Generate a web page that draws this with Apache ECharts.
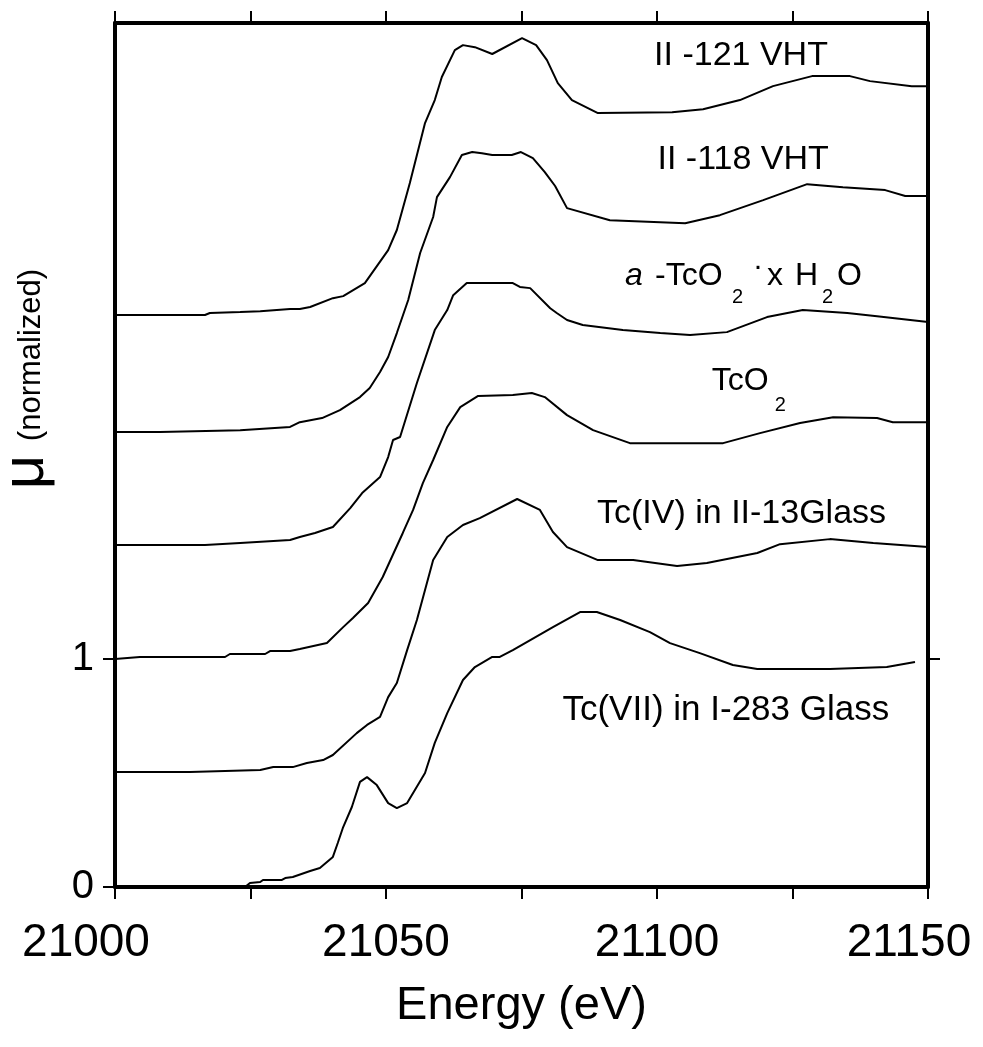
<!DOCTYPE html>
<html>
<head>
<meta charset="utf-8">
<script src="https://cdn.jsdelivr.net/npm/echarts@6/dist/echarts.min.js"></script>
<style>
  html, body { margin: 0; padding: 0; background: #ffffff; }
  #chart { width: 983px; height: 1047px; }
</style>
</head>
<body>
<div id="chart"></div>
<script>
// Tc K-edge XANES spectra, stacked with a 0.5 offset between samples.
// Energies in eV, mu in normalized units (offset included).

var energyII121 = [21000, 21016.6, 21017.5, 21023.1, 21026.8, 21032.3, 21034.1, 21036.0, 21040.2, 21042.1, 21046.1, 21050.4, 21052.0, 21054.4, 21057.2, 21059.0, 21060.3, 21062.7, 21064.2, 21066.4, 21069.6, 21075.1, 21077.7, 21079.7, 21081.7, 21084.3, 21089.1, 21102.8, 21108.5, 21115.3, 21121.4, 21128.6, 21135.6, 21139.3, 21147.0, 21150];
var muII121 = [2.509, 2.509, 2.518, 2.522, 2.526, 2.535, 2.535, 2.544, 2.583, 2.592, 2.649, 2.794, 2.882, 3.088, 3.351, 3.452, 3.553, 3.671, 3.693, 3.684, 3.654, 3.724, 3.693, 3.627, 3.526, 3.452, 3.395, 3.399, 3.412, 3.452, 3.513, 3.557, 3.557, 3.535, 3.513, 3.513];

var energyII118 = [21000, 21008.3, 21023.1, 21032.3, 21034.1, 21038.2, 21041.5, 21045.2, 21047.0, 21048.9, 21050.4, 21052.0, 21054.1, 21056.3, 21058.7, 21059.4, 21061.8, 21064.0, 21065.9, 21067.7, 21069.6, 21073.2, 21074.9, 21077.1, 21079.3, 21081.2, 21083.4, 21091.3, 21105.2, 21111.6, 21119.6, 21127.7, 21134.3, 21142.1, 21145.8, 21150];
var muII118 = [1.996, 1.996, 2.004, 2.018, 2.039, 2.057, 2.092, 2.149, 2.189, 2.259, 2.325, 2.430, 2.575, 2.781, 2.939, 3.026, 3.114, 3.211, 3.224, 3.219, 3.211, 3.211, 3.224, 3.197, 3.136, 3.075, 2.978, 2.925, 2.912, 2.947, 3.013, 3.083, 3.070, 3.057, 3.031, 3.031];

var energyHydrous = [21000, 21016.6, 21023.1, 21032.3, 21034.1, 21036.9, 21040.2, 21043.4, 21045.6, 21048.9, 21050.4, 21051.3, 21052.6, 21055.7, 21059.0, 21061.3, 21062.4, 21064.9, 21073.4, 21074.7, 21076.6, 21080.3, 21081.5, 21083.4, 21086.3, 21093.7, 21100.6, 21106.1, 21112.9, 21120.3, 21126.9, 21135.1, 21140.6, 21150];
var muHydrous = [1.500, 1.500, 1.509, 1.522, 1.535, 1.553, 1.579, 1.662, 1.728, 1.798, 1.886, 1.961, 1.974, 2.211, 2.443, 2.531, 2.596, 2.649, 2.649, 2.632, 2.627, 2.539, 2.518, 2.487, 2.465, 2.443, 2.430, 2.421, 2.434, 2.500, 2.531, 2.518, 2.504, 2.478];

var energyTcO2 = [21000, 21004.6, 21020.3, 21021.2, 21027.7, 21028.6, 21032.3, 21034.1, 21039.1, 21042.1, 21043.9, 21046.7, 21049.4, 21053.1, 21055.0, 21056.8, 21058.7, 21061.3, 21063.7, 21067.0, 21073.4, 21076.9, 21079.3, 21083.4, 21088.2, 21095.0, 21112.2, 21119.0, 21126.4, 21132.5, 21140.6, 21143.5, 21150];
var muTcO2 = [1.000, 1.009, 1.009, 1.022, 1.022, 1.035, 1.035, 1.044, 1.070, 1.140, 1.180, 1.246, 1.360, 1.553, 1.654, 1.772, 1.873, 2.018, 2.105, 2.154, 2.158, 2.167, 2.149, 2.070, 2.004, 1.947, 1.947, 1.991, 2.035, 2.061, 2.057, 2.039, 2.039];

var energyTcIV = [21000, 21013.8, 21026.8, 21029.2, 21032.8, 21035.4, 21038.4, 21040.2, 21044.6, 21046.5, 21048.9, 21050.4, 21052.0, 21053.9, 21055.7, 21057.2, 21058.7, 21061.3, 21064.2, 21067.3, 21074.2, 21078.4, 21080.8, 21083.4, 21089.1, 21095.6, 21103.7, 21109.2, 21118.5, 21122.7, 21131.9, 21139.9, 21150];
var muTcIV = [0.504, 0.504, 0.513, 0.526, 0.526, 0.544, 0.557, 0.579, 0.675, 0.711, 0.746, 0.833, 0.895, 1.039, 1.171, 1.303, 1.434, 1.535, 1.588, 1.618, 1.702, 1.654, 1.557, 1.491, 1.434, 1.434, 1.408, 1.421, 1.465, 1.504, 1.526, 1.509, 1.491];

var energyTcVII = [21000, 21024.0, 21024.9, 21026.8, 21027.3, 21030.8, 21031.4, 21032.8, 21036.0, 21037.8, 21040.2, 21041.1, 21042.1, 21043.7, 21045.2, 21046.5, 21048.3, 21050.4, 21052.0, 21053.9, 21057.2, 21059.0, 21061.3, 21064.2, 21066.4, 21069.6, 21071.0, 21073.4, 21080.8, 21085.8, 21088.9, 21093.2, 21098.7, 21102.4, 21107.9, 21114.0, 21118.5, 21131.9, 21142.4, 21147.6];
var muTcVII = [0, 0, 0.018, 0.022, 0.031, 0.031, 0.039, 0.044, 0.070, 0.083, 0.132, 0.193, 0.263, 0.351, 0.461, 0.482, 0.447, 0.368, 0.346, 0.368, 0.500, 0.632, 0.763, 0.908, 0.965, 1.009, 1.009, 1.039, 1.140, 1.206, 1.206, 1.171, 1.118, 1.070, 1.026, 0.974, 0.956, 0.956, 0.965, 0.987];

var energyTicks = [21000, 21050, 21100, 21150];
var muTicks = [0, 1];

// Curve captions: [energy, mu] anchor of each caption
var captionII121 = [21115.5, 3.649];
var captionII118 = [21115.9, 3.189];
var captionHydrous = [21094.1, 2.680];
var captionTcO2 = [21110.1, 2.219];
var captionTcIV = [21115.6, 1.640];
var captionTcVII = [21112.7, 0.776];

var FONT = '"Liberation Sans", Arial, Helvetica, sans-serif';

function zip(xs, ys) {
  var out = [];
  for (var i = 0; i < xs.length; i++) out.push([xs[i], ys[i]]);
  return out;
}

var curves = [
  { name: 'II -121 VHT', x: energyII121, y: muII121 },
  { name: 'II -118 VHT', x: energyII118, y: muII118 },
  { name: 'a-TcO2 x H2O', x: energyHydrous, y: muHydrous },
  { name: 'TcO2', x: energyTcO2, y: muTcO2 },
  { name: 'Tc(IV) in II-13Glass', x: energyTcIV, y: muTcIV },
  { name: 'Tc(VII) in I-283 Glass', x: energyTcVII, y: muTcVII }
];

var chart = echarts.init(document.getElementById('chart'), null, { renderer: 'canvas' });

var frameLine = { show: true, onZero: false, lineStyle: { color: '#000', width: 4 } };
var tickStyle = { show: true, inside: false, length: 12, lineStyle: { color: '#000', width: 2 } };
var tickFont = { fontSize: 46, fontFamily: FONT, color: '#000' };

chart.setOption({
  animation: false,
  backgroundColor: '#ffffff',
  grid: { left: 115, right: 55, top: 23, bottom: 160, outerBoundsMode: 'none', containLabel: false },
  xAxis: [
    {
      type: 'value', position: 'bottom', min: 21000, max: 21150, interval: 25,
      axisLine: frameLine,
      axisTick: tickStyle,
      splitLine: { show: false },
      axisLabel: {
        margin: 33, color: '#000', fontSize: 46, fontFamily: FONT,
        formatter: function (v) {
          if (energyTicks.indexOf(v) < 0) return '';
          if (v === energyTicks[0]) return '{first|' + v + '}';
          if (v === energyTicks[energyTicks.length - 1]) return '{last|' + v + '}';
          return String(v);
        },
        rich: {
          first: Object.assign({ padding: [0, 58, 0, 0] }, tickFont),
          last: Object.assign({ padding: [0, 38, 0, 0] }, tickFont)
        }
      },
      name: 'Energy (eV)', nameLocation: 'middle', nameGap: 96,
      nameTextStyle: { color: '#000', fontSize: 47, fontFamily: FONT }
    },
    {
      type: 'value', position: 'top', min: 21000, max: 21150, interval: 25,
      axisLine: frameLine,
      axisTick: tickStyle,
      splitLine: { show: false },
      axisLabel: { show: false }
    }
  ],
  yAxis: [
    {
      type: 'value', position: 'left', min: 0, max: 3.79,
      axisLine: frameLine,
      axisTick: { show: true, inside: false, length: 12, customValues: muTicks, lineStyle: { color: '#000', width: 2 } },
      axisLabel: { customValues: muTicks, margin: 21, color: '#000', fontSize: 40, fontFamily: FONT },
      splitLine: { show: false }
    },
    {
      type: 'value', position: 'right', min: 0, max: 3.79,
      axisLine: frameLine,
      axisTick: { show: true, inside: false, length: 12, customValues: [1], lineStyle: { color: '#000', width: 2 } },
      axisLabel: { show: false },
      splitLine: { show: false }
    }
  ],
  series: curves.map(function (c) {
    return {
      name: c.name, type: 'line', xAxisIndex: 0, yAxisIndex: 0,
      data: zip(c.x, c.y), showSymbol: false, smooth: false,
      lineStyle: { color: '#000', width: 2 }, silent: true
    };
  })
});

function px(pt) { return chart.convertToPixel({ seriesIndex: 0 }, pt); }

function plain(txt, at, size) {
  var p = px(at);
  return {
    type: 'text', x: p[0], y: p[1], silent: true,
    style: { text: txt, fill: '#000', fontSize: size || 34, fontFamily: FONT, align: 'center', verticalAlign: 'middle' }
  };
}

function piece(txt, dx, dy, size, italic) {
  return {
    type: 'text', x: dx, y: dy, silent: true,
    style: { text: txt, fill: '#000', fontSize: size, fontStyle: italic ? 'italic' : 'normal', fontFamily: FONT, align: 'left', verticalAlign: 'middle' }
  };
}

function rotated(txt, x, y, size) {
  return {
    type: 'text', x: x, y: y, rotation: Math.PI / 2, silent: true,
    style: { text: txt, fill: '#000', fontSize: size, fontFamily: FONT, align: 'center', verticalAlign: 'middle' }
  };
}

var pHyd = px(captionHydrous);
var pTc = px(captionTcO2);

chart.setOption({
  graphic: [
    plain('II -121 VHT', captionII121),
    plain('II -118 VHT', captionII118),
    {
      type: 'group', x: pHyd[0], y: pHyd[1], silent: true,
      children: [
        piece('a', 0, 0, 32, true),
        piece('-TcO', 30, 0, 32),
        piece('2', 107, 21, 20),
        piece('\u00B7', 128, -9, 30),
        piece('x', 142, 0, 32),
        piece('H', 170, 0, 32),
        piece('2', 197, 21, 20),
        piece('O', 212, 0, 32)
      ]
    },
    {
      type: 'group', x: pTc[0], y: pTc[1], silent: true,
      children: [
        piece('TcO', 0, 0, 32),
        piece('2', 63, 24, 20)
      ]
    },
    plain('Tc(IV) in II-13Glass', captionTcIV),
    plain('Tc(VII) in I-283 Glass', captionTcVII, 35),
    // axis title: mu (normalized), reading upward
    rotated('\u03BC', 26, 472, 60),
    rotated('(normalized)', 31, 355, 31)
  ]
});
</script>
</body>
</html>
